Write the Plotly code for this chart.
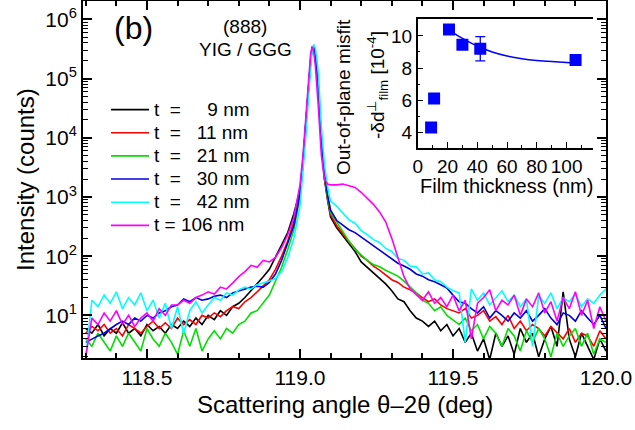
import plotly.graph_objects as go

# ---------------- data ----------------
angle = [118.30, 118.32, 118.34, 118.36, 118.38, 118.40, 118.42, 118.44, 118.46, 118.48,
         118.50, 118.52, 118.54, 118.56, 118.58, 118.60, 118.62, 118.64, 118.66, 118.68,
         118.70, 118.72, 118.74, 118.76, 118.78, 118.80, 118.82, 118.84, 118.86, 118.88,
         118.90, 118.92, 118.94, 118.96,
         118.98, 119.00, 119.01, 119.02, 119.03, 119.035, 119.04, 119.045, 119.05, 119.055,
         119.06, 119.07, 119.08, 119.09, 119.10,
         119.12, 119.14, 119.16, 119.18, 119.20, 119.22, 119.24, 119.26, 119.28, 119.30,
         119.32, 119.34, 119.36, 119.38, 119.40, 119.42, 119.44, 119.46, 119.48, 119.50,
         119.52, 119.54, 119.56, 119.58, 119.60, 119.62, 119.64, 119.66, 119.68, 119.70,
         119.72, 119.74, 119.76, 119.78, 119.80, 119.82, 119.84, 119.86, 119.88, 119.90,
         119.92, 119.94, 119.96, 119.98, 120.00]

t9 = [6, 5, 7, 4.5, 6, 5, 7.5, 5, 6, 4.5, 7, 5.5, 6.5, 5, 7, 6, 8, 6.5, 9, 7,
      10, 8.5, 12, 10, 14, 16, 20, 26, 34, 45, 60, 95, 150, 250,
      520, 1300, 4200, 21000, 105000, 210000, 335000, 330000, 230000, 130000, 70000, 7500, 2000, 900, 460,
      300, 220, 160, 120, 80, 65, 52, 42, 34, 26, 19, 17, 12, 9, 8, 6.5, 8, 5.5, 7, 4.5,
      6, 3.5, 5, 2.5, 4, 1.8, 5, 3, 4.5, 2.2, 6, 3.5, 5, 2, 4, 6.5, 3, 25, 4, 2,
      5, 3, 1.8, 4, 2.5]
t11 = [5, 6.5, 5.5, 7, 5, 6, 4.5, 7, 6, 5, 6.5, 8, 6, 7.5, 6, 9, 7, 8.5, 7, 10,
       9, 11, 9.5, 12, 14, 13, 17, 20, 25, 32, 40, 60, 100, 180,
       380, 1100, 3800, 20000, 100000, 205000, 335000, 335000, 240000, 140000, 75000, 8000, 2100, 950, 500,
       330, 240, 175, 135, 100, 85, 68, 58, 48, 40, 36, 30, 27, 24, 20, 17, 19, 15, 13, 12,
       11, 13, 9, 10, 12, 8, 9.5, 7, 10, 6, 8, 5.5, 7, 6, 4.5, 6.5, 5, 4, 6, 3.5,
       5, 4.5, 3, 5.5, 4]
t21 = [4, 3, 5, 3.5, 2.5, 4.5, 3, 5, 3.5, 2.5, 6, 4, 3, 5, 3.5, 2.2, 5.5, 3, 6, 2.5,
       4, 5.5, 4, 6, 5, 7, 8, 11, 12, 16, 22, 38, 65, 130,
       280, 1000, 3600, 19000, 98000, 200000, 330000, 335000, 245000, 145000, 78000, 8500, 2300, 1000, 540,
       380, 260, 180, 130, 105, 85, 72, 66, 58, 52, 46, 38, 30, 24, 18, 16, 12, 14, 10, 8.5,
       7, 9, 5.5, 7, 4, 6.5, 5, 3, 6, 4.5, 2.5, 5.5, 3.5, 6, 4, 2, 5, 3, 4.5, 6,
       3, 5, 2.2, 4, 3.5]
t30 = [3.5, 4, 4.5, 5, 6, 7, 8, 7, 9, 8, 10, 9, 11, 12, 14, 15, 19, 17, 20, 18,
       19, 21, 22, 20, 24, 26, 28, 30, 31, 30, 36, 50, 85, 170,
       330, 1100, 3800, 20000, 100000, 205000, 335000, 335000, 245000, 145000, 80000, 9000, 2600, 1100, 600,
       400, 335, 280, 250, 210, 180, 150, 127, 105, 90, 76, 68, 60, 50, 46, 40, 37, 33, 29, 22,
       17, 16, 13, 11, 14, 9, 12, 10, 8, 11, 9, 12, 8, 10, 13, 9, 7, 11, 10, 8,
       12, 9, 7, 10, 6]
t42 = [2, 18, 14, 22, 16, 25, 13, 20, 15, 24, 12, 18, 9, 16, 6, 14, 5, 12, 17, 11,
       15, 20, 18, 24, 22, 27, 30, 28, 33, 35, 38, 42, 55, 95,
       200, 700, 2500, 12000, 70000, 160000, 300000, 375000, 330000, 220000, 120000, 15000, 3500, 1500, 850,
       700, 540, 410, 360, 270, 230, 190, 170, 135, 120, 92, 85, 68, 66, 50, 52, 40, 37, 30, 26,
       24, 3.5, 28, 18, 24, 15, 20, 26, 17, 22, 14, 19, 3, 21, 16, 24, 13, 20, 17, 23,
       14, 19, 16, 22, 28]
t106 = [2, 9, 7, 11, 8, 12, 7, 10, 6.5, 9, 11, 8, 13, 10, 15, 15, 18, 16, 20, 22,
        25, 23, 30, 28, 35, 45, 55, 70, 65, 85, 80, 95, 140, 230,
        450, 1600, 5200, 27000, 140000, 270000, 345000, 280000, 170000, 80000, 33000, 5000, 2000, 1650, 1600,
        1600, 1650, 1550, 1450, 1200, 950, 750, 560, 380, 200, 95, 45, 28, 22, 18, 25, 16, 20, 14, 22,
        12, 18, 4, 16, 20, 27, 12, 18, 15, 22, 10, 19, 14, 24, 11, 17, 8, 20, 13, 25,
        10, 18, 6, 14, 8]

series_names = ["t\u00a0\u00a0=\u00a0\u00a0\u00a0\u00a0\u00a09 nm",
                "t\u00a0\u00a0=\u00a0\u00a0\u00a011 nm",
                "t\u00a0\u00a0=\u00a0\u00a0\u00a021 nm",
                "t\u00a0\u00a0=\u00a0\u00a0\u00a030 nm",
                "t\u00a0\u00a0=\u00a0\u00a0\u00a042 nm",
                "t\u00a0=\u00a0106 nm"]
series_colors = ["#000000", "#ff0000", "#00e000", "#0000dd", "#00ffff", "#ff00ff"]

# inset data
thickness = [9, 11, 21, 30, 42, 106]
misfit = [4.3, 6.1, 10.4, 9.45, 9.2, 8.5]
misfit_err = [0, 0, 0, 0, 0.75, 0]
fit_thickness = [21, 25, 30, 35, 40, 45, 50, 60, 70, 80, 90, 100, 106]
fit_misfit = [10.45, 10.12, 9.85, 9.6, 9.38, 9.18, 9.0, 8.75, 8.58, 8.47, 8.4, 8.35, 8.33]

# ---------------- figure ----------------
FONT = "Liberation Sans, Arial, sans-serif"
W, H = 635, 430
ML, MR, MT, MB = 83, 29, 1, 72
PW, PH = W - ML - MR, H - MT - MB


def px(xp):
    return (xp - ML) / PW


def py(yp):
    return (H - MB - yp) / PH


fig = go.Figure()
for ys, name, col in zip([t9, t11, t21, t30, t42, t106], series_names, series_colors):
    fig.add_trace(go.Scatter(x=angle, y=ys, mode="lines",
                             name="<span style='font-size:19px'>" + name + "</span>",
                             line=dict(color=col, width=1.6), xaxis="x", yaxis="y"))

fig.add_trace(go.Scatter(x=fit_thickness, y=fit_misfit, mode="lines", line=dict(color="#0000ff", width=1.5, shape="spline"),
                         xaxis="x2", yaxis="y2", showlegend=False))
fig.add_trace(go.Scatter(x=thickness, y=misfit, mode="markers",
                         marker=dict(symbol="square", size=12, color="#0000ff", line=dict(width=0)),
                         error_y=dict(type="data", array=misfit_err, visible=True, width=5, thickness=1.3, color="#0000ff"),
                         xaxis="x2", yaxis="y2", showlegend=False))

minor_log = [m * 10 ** k for k in range(0, 7) for m in range(2, 10)]

fig.update_layout(
    width=W, height=H,
    margin=dict(l=ML, r=MR, t=MT, b=MB, autoexpand=False),
    paper_bgcolor="white", plot_bgcolor="white",
    font=dict(family=FONT, size=20, color="black"),
    xaxis=dict(range=[118.291, 120.0], showgrid=False, zeroline=False, automargin=False,
               showline=True, linecolor="black", linewidth=2, mirror="allticks",
               ticks="inside", ticklen=9, tickwidth=1.5, tickcolor="black",
               tickvals=[118.5, 119.0, 119.5, 120.0], ticktext=["118.5", "119.0", "119.5", "120.0"],
               tickfont=dict(size=21),
               minor=dict(ticks="inside", ticklen=5, tickwidth=1.5, tickcolor="black", dtick=0.1, tick0=118.0, showgrid=False)),
    yaxis=dict(type="log", range=[0.28, 6.31], showgrid=False, zeroline=False, automargin=False,
               showline=True, linecolor="black", linewidth=2, mirror="allticks",
               ticks="inside", ticklen=9, tickwidth=1.5, tickcolor="black",
               tickvals=[10, 100, 1000, 1e4, 1e5, 1e6],
               ticktext=["10<sup>1</sup>", "10<sup>2</sup>", "10<sup>3</sup>", "10<sup>4</sup>", "10<sup>5</sup>", "10<sup>6</sup>"],
               tickfont=dict(size=21),
               minor=dict(ticks="inside", ticklen=5, tickwidth=1, tickcolor="black", tickvals=minor_log, showgrid=False)),
    xaxis2=dict(domain=[0.640, 0.976], anchor="y2", range=[0, 118], showgrid=False, zeroline=False, automargin=False,
                showline=True, linecolor="black", linewidth=1.5, mirror=True,
                ticks="inside", ticklen=6, tickwidth=1.2, tickcolor="black",
                tickvals=[0, 20, 40, 60, 80, 100], ticktext=["0", "20", "40", "60", "80", "100"],
                tickfont=dict(size=19),
                minor=dict(ticks="inside", ticklen=3, tickwidth=1, tickcolor="black", dtick=10, tick0=0, showgrid=False)),
    yaxis2=dict(domain=[0.588, 0.9496], anchor="x2", range=[3.02, 11.05], showgrid=False, zeroline=False, automargin=False,
                showline=True, linecolor="black", linewidth=1.5, mirror=False,
                ticks="inside", ticklen=6, tickwidth=1.2, tickcolor="black",
                tickvals=[4, 6, 8, 10], ticktext=["4", "6", "8", "10"],
                tickfont=dict(size=19),
                minor=dict(ticks="inside", ticklen=3, tickwidth=1, tickcolor="black", dtick=1, tick0=0, showgrid=False)),
    legend=dict(x=px(106), y=py(93), xanchor="left", yanchor="top",
                bgcolor="rgba(0,0,0,0)", borderwidth=0, font=dict(size=15.5),
                tracegroupgap=0, itemwidth=38),
    showlegend=True,
)

annots = [
    dict(text="(b)", x=px(133), y=py(28), font=dict(size=32)),
    dict(text="(888)", x=px(245), y=py(27), font=dict(size=19)),
    dict(text="YIG / GGG", x=px(245), y=py(50), font=dict(size=19)),
    dict(text="Out-of-plane misfit", x=px(343), y=py(97), font=dict(size=19), textangle=-90),
    dict(text="-\u03b4d<sup>\u22a5</sup><sub>film</sub> [10<sup>-4</sup>]", x=px(377), y=py(85), font=dict(size=19), textangle=-90),
    dict(text="Film thickness (nm)", x=px(506), y=py(186), font=dict(size=20)),
    dict(text="Scattering angle \u03b8\u20132\u03b8 (deg)", x=px(345), y=py(404), font=dict(size=24)),
    dict(text="Intensity (counts)", x=px(25), y=py(180), font=dict(size=24), textangle=-90),
]
for a in annots:
    fig.add_annotation(xref="paper", yref="paper", showarrow=False, xanchor="center", yanchor="middle",
                       font_family=FONT, font_color="black", **{k: v for k, v in a.items()})

fig.write_html("out.html", config={"displayModeBar": False},
               post_script="document.body.style.margin='0px';document.body.style.padding='0px';")
